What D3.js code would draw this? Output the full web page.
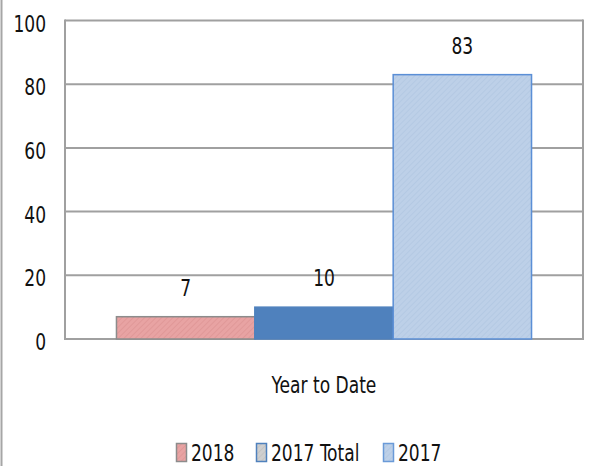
<!DOCTYPE html>
<html>
<head>
<meta charset="utf-8">
<script src="https://cdn.jsdelivr.net/npm/d3@7"></script>
<style>
  body { margin: 0; background: #fff; }
  svg text { font-family: 'DejaVu Sans Condensed', 'DejaVu Sans', sans-serif; font-stretch: condensed; fill: #111; }
</style>
</head>
<body>
<div id="chart"></div>
<script>
// chart data
var categories = ['Year to Date']
var series = ['2018', '2017 Total', '2017']
var values = [7, 10, 83]
var yTicks = [0, 20, 40, 60, 80, 100]

var w = 591
var h = 466
var plotLeft = 65
var plotRight = 583
var plotTop = 20.5
var plotBottom = 339
var fs = 19
var stretch = 'scale(1,1.25)'

var svg = d3.select('div#chart').append('svg')
  .attr('width', w)
  .attr('height', h)

// hatch patterns
var defs = svg.append('defs')
function hatch (id, bg, fg) {
  var p = defs.append('pattern')
    .attr('id', id)
    .attr('patternUnits', 'userSpaceOnUse')
    .attr('width', 4)
    .attr('height', 4)
    .attr('patternTransform', 'rotate(45)')
  p.append('rect').attr('width', 4).attr('height', 4).attr('fill', bg)
  p.append('line').attr('x1', 0).attr('y1', 0).attr('x2', 0).attr('y2', 4)
    .attr('stroke', fg).attr('stroke-width', 1.2)
}
hatch('h2018', '#e8a3a3', '#dc9191')
hatch('h2017', '#bdd0e8', '#aec4e0')
hatch('hgray', '#cfcfcf', '#bdbdbd')

var fills = ['url(#h2018)', '#4f81bd', 'url(#h2017)']
var strokes = ['#8c8c8c', '#4f81bd', '#5b8fd6']
var legendFills = ['url(#h2018)', 'url(#hgray)', 'url(#h2017)']
var legendStrokes = ['#8c8c8c', '#4f81bd', '#6a9ad8']

var y = d3.scaleLinear().domain([0, 100]).range([plotBottom, plotTop])
var x0 = d3.scaleBand().domain(categories).range([plotLeft, plotRight]).paddingInner(0).paddingOuter(0.124)
var x1 = d3.scaleBand().domain(series).range([0, x0.bandwidth()])

// text placed at (x, y) baseline, stretched vertically like the original
function label (parent, x, y, txt, anchor) {
  return parent.append('g').attr('transform', 'translate(' + x + ',' + y + ')')
    .append('text')
    .attr('transform', stretch)
    .attr('text-anchor', anchor || 'start')
    .attr('font-size', fs)
    .text(txt)
}

// outer chart border (left edge)
svg.append('line').attr('x1', 1.5).attr('x2', 1.5).attr('y1', 0).attr('y2', h)
  .attr('stroke', '#a6a6a6').attr('stroke-width', 2)

// gridlines
svg.append('g').selectAll('line').data(yTicks).join('line')
  .attr('x1', plotLeft).attr('x2', plotRight)
  .attr('y1', function (d) { return y(d) }).attr('y2', function (d) { return y(d) })
  .attr('stroke', '#a0a0a0').attr('stroke-width', 2)

// plot frame sides
svg.append('line').attr('x1', plotLeft).attr('x2', plotLeft).attr('y1', plotTop - 1).attr('y2', plotBottom + 1)
  .attr('stroke', '#a0a0a0').attr('stroke-width', 2)
svg.append('line').attr('x1', plotRight).attr('x2', plotRight).attr('y1', plotTop - 1).attr('y2', plotBottom + 1)
  .attr('stroke', '#a0a0a0').attr('stroke-width', 2)

// y axis labels
var yAxis = d3.axisLeft(y).tickValues(yTicks).tickSize(0).tickPadding(19)
var gy = svg.append('g').attr('transform', 'translate(' + plotLeft + ',0)').call(yAxis)
gy.select('.domain').remove()
gy.attr('font-family', null).attr('font-size', null)
gy.selectAll('text')
  .attr('font-size', fs)
  .attr('dy', '0.45em')
  .attr('transform', stretch)
  .style('fill', '#111')

// bars
var g = svg.append('g').attr('transform', 'translate(' + x0(categories[0]) + ',0)')
g.selectAll('rect').data(values).join('rect')
  .attr('x', function (d, i) { return x1(series[i]) })
  .attr('y', function (d) { return y(d) })
  .attr('width', x1.bandwidth())
  .attr('height', function (d) { return y(0) - y(d) })
  .attr('fill', function (d, i) { return fills[i] })
  .attr('stroke', function (d, i) { return strokes[i] })
  .attr('stroke-width', 1.5)

// value labels
values.forEach(function (d, i) {
  label(g, x1(series[i]) + x1.bandwidth() / 2, y(d) - 21, d, 'middle')
})

// category label
label(svg, x0(categories[0]) + x0.bandwidth() / 2, 393, categories[0], 'middle')

// legend
var legendX = [176, 256, 383]
series.forEach(function (s, i) {
  var lg = svg.append('g').attr('transform', 'translate(' + legendX[i] + ',443)')
  lg.append('rect')
    .attr('x', 0.5).attr('y', 0.5).attr('width', 10).attr('height', 18)
    .attr('fill', legendFills[i])
    .attr('stroke', legendStrokes[i])
    .attr('stroke-width', 1.5)
  label(lg, 15, 18, s)
})
</script>
</body>
</html>
